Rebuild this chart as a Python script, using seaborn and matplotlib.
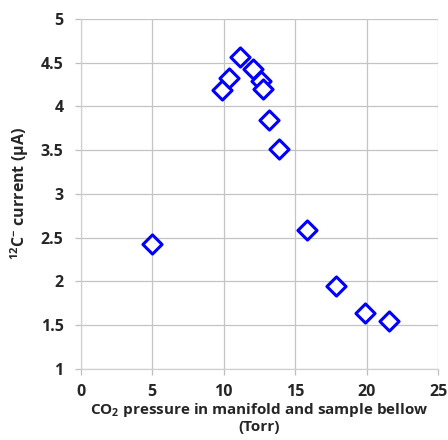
import matplotlib
matplotlib.use("Agg")
import matplotlib.pyplot as plt
import seaborn as sns
import pandas as pd

pressure = [4.96, 9.87, 10.39, 11.15, 12.06, 12.58, 12.76, 13.18, 13.88, 15.84, 17.84, 19.89, 21.59]
current = [2.43, 4.19, 4.33, 4.56, 4.43, 4.285, 4.20, 3.845, 3.51, 2.59, 1.95, 1.64, 1.55]
xticks = [0, 5, 10, 15, 20, 25]
yticks = [1, 1.5, 2, 2.5, 3, 3.5, 4, 4.5, 5]

sns.set_theme(style="white")
plt.rcParams['font.family'] = ['Open Sans', 'DejaVu Sans']
plt.rcParams['font.weight'] = 'bold'
plt.rcParams['mathtext.fontset'] = 'custom'
plt.rcParams['mathtext.rm'] = 'Open Sans:bold'
plt.rcParams['mathtext.it'] = 'Open Sans:bold'
plt.rcParams['mathtext.bf'] = 'Open Sans:bold'

df = pd.DataFrame({"p": pressure, "c": current})

fig = plt.figure(figsize=(4.48, 4.40), dpi=100)
ax = fig.add_axes([0.180, 0.162, 0.798, 0.795])

sns.scatterplot(data=df, x="p", y="c", ax=ax, marker="D", s=95,
                facecolor="white", edgecolor="#0000ff", linewidth=2.2, zorder=3)

ax.set_xlim(0, 25)
ax.set_ylim(1, 5)
ax.set_xticks(xticks)
ax.set_yticks(yticks)
ax.set_xticklabels([f"{t:g}" for t in xticks], fontsize=11.5, fontweight="bold")
ax.set_yticklabels([f"{t:g}" for t in yticks], fontsize=11.5, fontweight="bold")
ax.tick_params(axis="both", length=4.3, color="#bfbfbf", width=0.9,
               bottom=True, left=True)
ax.tick_params(axis="x", pad=7)
ax.tick_params(axis="y", pad=8)

for s in ["top", "right"]:
    ax.spines[s].set_visible(False)
for s in ["left", "bottom"]:
    ax.spines[s].set_color("#d0d0d0")
    ax.spines[s].set_linewidth(0.9)

ax.set_axisbelow(True)
ax.grid(True, which="major", axis="both", color="#c4c4c4", linewidth=0.9)

ax.set_xlabel("CO$_2$ pressure in manifold and sample bellow\n(Torr)",
              fontsize=11, fontweight="bold", labelpad=0.5, linespacing=1.05)
ax.set_ylabel("$^{12}$C$^{-}$ current (\u03bcA)", fontsize=11.5, fontweight="bold", labelpad=7)

fig.savefig("out.png", dpi=100)
